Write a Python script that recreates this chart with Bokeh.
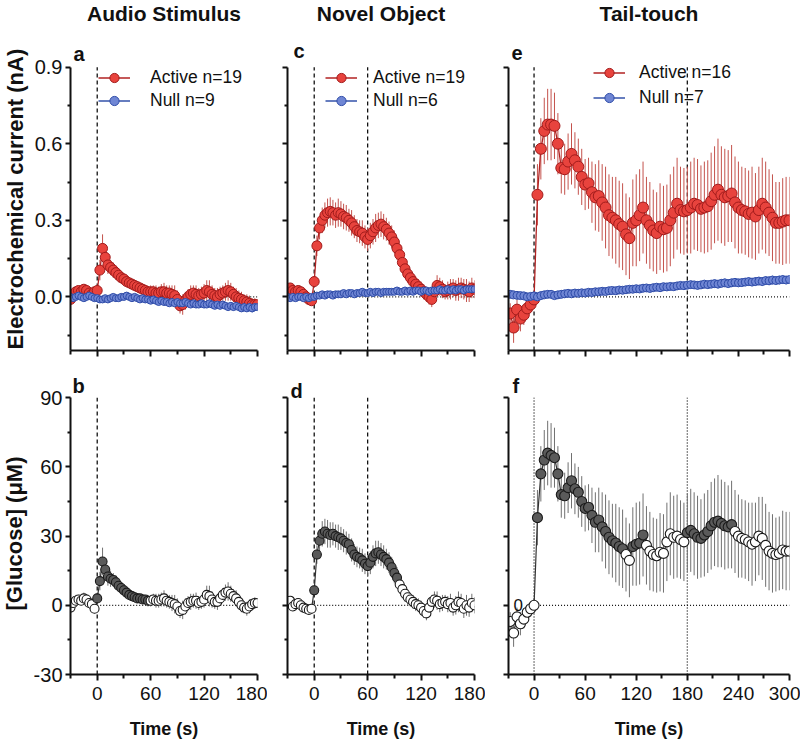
from bokeh.plotting import figure
from bokeh.models import Range1d, FixedTicker, Label, Legend, LegendItem, NumeralTickFormatter, Title
from bokeh.layouts import row, column
from bokeh.embed import file_html
from bokeh.resources import INLINE

FONT = "Liberation Sans"

# ---------------- data ----------------
time_ac = list(range(-30, 181, 3))   # panels a-d sample times (s)
time_e = list(range(-28, 301, 4))    # panels e-f sample times (s)

# Panel a : audio stimulus, electrochemical current (nA)
a_active = [
    -0.01, 0.01, 0.02, 0.025, 0.02, 0.03, 0.025, 0.015, 0.01, 0.02,
    0.025, 0.105, 0.19, 0.155, 0.125, 0.115, 0.105, 0.095, 0.085, 0.075,
    0.07, 0.06, 0.055, 0.05, 0.045, 0.04, 0.035, 0.03, 0.025, 0.02,
    0.02, 0.02, 0.015, 0.015, 0.02, 0.02, 0.015, 0.015, 0.01, 0.005,
    -0.01, -0.035, -0.03, -0.015, 0.0, 0.01, 0.015, 0.01, 0.005, 0.01,
    0.015, 0.025, 0.02, 0.01, 0.005, 0.0, 0.01, 0.015, 0.02, 0.025,
    0.02, 0.01, 0.0, -0.005, -0.01, -0.015, -0.02, -0.025, -0.03, -0.03,
    -0.03]
a_active_err = [
    0.012, 0.012, 0.014, 0.012, 0.012, 0.014, 0.012, 0.012, 0.01, 0.012,
    0.015, 0.04, 0.055, 0.045, 0.035, 0.03, 0.03, 0.028, 0.025, 0.025,
    0.022, 0.02, 0.02, 0.02, 0.018, 0.018, 0.02, 0.02, 0.022, 0.022,
    0.025, 0.025, 0.03, 0.025, 0.03, 0.035, 0.03, 0.03, 0.035, 0.04,
    0.035, 0.03, 0.04, 0.035, 0.03, 0.035, 0.03, 0.035, 0.03, 0.03,
    0.035, 0.04, 0.045, 0.035, 0.03, 0.035, 0.03, 0.03, 0.035, 0.04,
    0.035, 0.03, 0.035, 0.03, 0.03, 0.025, 0.03, 0.03, 0.025, 0.025,
    0.02]
a_null = [
    0.0, -0.005, 0.0, 0.005, 0.0, -0.005, 0.0, 0.005, 0.0, -0.005,
    -0.005, -0.01, -0.01, -0.005, -0.01, -0.005, 0.0, -0.005, -0.005, 0.0,
    0.0, 0.005, 0.0, -0.005, 0.0, -0.005, -0.01, -0.005, -0.01, -0.01,
    -0.015, -0.01, -0.015, -0.02, -0.015, -0.02, -0.02, -0.025, -0.02, -0.025,
    -0.02, -0.025, -0.025, -0.02, -0.025, -0.03, -0.025, -0.03, -0.03, -0.025,
    -0.03, -0.03, -0.025, -0.03, -0.035, -0.03, -0.035, -0.03, -0.035, -0.04,
    -0.035, -0.04, -0.035, -0.04, -0.045, -0.04, -0.045, -0.04, -0.045, -0.04,
    -0.04]
a_null_err = [
    0.006, 0.006, 0.007, 0.006, 0.006, 0.007, 0.006, 0.006, 0.007, 0.006,
    0.007, 0.008, 0.008, 0.007, 0.007, 0.008, 0.007, 0.007, 0.008, 0.007,
    0.008, 0.008, 0.007, 0.008, 0.008, 0.009, 0.008, 0.009, 0.008, 0.009,
    0.009, 0.01, 0.009, 0.01, 0.01, 0.009, 0.01, 0.011, 0.01, 0.011,
    0.01, 0.011, 0.012, 0.011, 0.012, 0.011, 0.012, 0.012, 0.011, 0.012,
    0.012, 0.013, 0.012, 0.013, 0.012, 0.013, 0.014, 0.013, 0.012, 0.013,
    0.014, 0.013, 0.014, 0.015, 0.014, 0.015, 0.014, 0.015, 0.016, 0.015,
    0.015]

# Panel c : novel object
c_active = [
    0.03, 0.035, 0.025, 0.02, 0.025, 0.02, 0.01, 0.0, -0.01, -0.015,
    0.06, 0.2, 0.27, 0.3, 0.32, 0.33, 0.335, 0.33, 0.32, 0.33,
    0.325, 0.315, 0.31, 0.3, 0.29, 0.275, 0.26, 0.255, 0.25, 0.235,
    0.225, 0.24, 0.255, 0.27, 0.28, 0.285, 0.275, 0.265, 0.25, 0.235,
    0.215, 0.19, 0.165, 0.135, 0.11, 0.09, 0.075, 0.06, 0.05, 0.04,
    0.03, 0.02, 0.01, 0.0, -0.01, 0.02, 0.045, 0.04, 0.03, 0.02,
    0.025, 0.03, 0.035, 0.025, 0.03, 0.035, 0.03, 0.025, 0.02, 0.035,
    0.03]
c_active_err = [
    0.015, 0.015, 0.018, 0.015, 0.015, 0.018, 0.02, 0.018, 0.015, 0.015,
    0.02, 0.04, 0.045, 0.05, 0.05, 0.055, 0.055, 0.05, 0.05, 0.055,
    0.05, 0.05, 0.05, 0.045, 0.05, 0.045, 0.045, 0.045, 0.05, 0.045,
    0.045, 0.05, 0.05, 0.055, 0.05, 0.05, 0.05, 0.045, 0.045, 0.045,
    0.045, 0.045, 0.04, 0.04, 0.035, 0.035, 0.03, 0.03, 0.03, 0.03,
    0.03, 0.03, 0.03, 0.03, 0.03, 0.035, 0.04, 0.035, 0.035, 0.03,
    0.035, 0.04, 0.035, 0.04, 0.045, 0.04, 0.04, 0.045, 0.04, 0.04,
    0.035]
c_null = [
    0.0, -0.005, 0.0, -0.005, 0.0, 0.0, -0.005, 0.0, -0.005, 0.0,
    0.0, 0.005, 0.005, 0.01, 0.005, 0.01, 0.01, 0.005, 0.01, 0.01,
    0.01, 0.015, 0.01, 0.015, 0.015, 0.01, 0.015, 0.015, 0.02, 0.015,
    0.015, 0.02, 0.015, 0.02, 0.02, 0.015, 0.02, 0.02, 0.02, 0.02,
    0.02, 0.025, 0.02, 0.02, 0.025, 0.02, 0.025, 0.02, 0.025, 0.025,
    0.02, 0.025, 0.025, 0.02, 0.025, 0.025, 0.025, 0.03, 0.025, 0.025,
    0.03, 0.025, 0.03, 0.025, 0.03, 0.03, 0.025, 0.03, 0.03, 0.03,
    0.03]
c_null_err = [
    0.006, 0.006, 0.006, 0.007, 0.006, 0.006, 0.007, 0.006, 0.006, 0.006,
    0.007, 0.007, 0.008, 0.007, 0.008, 0.008, 0.007, 0.008, 0.008, 0.008,
    0.008, 0.009, 0.008, 0.009, 0.009, 0.008, 0.009, 0.009, 0.01, 0.009,
    0.009, 0.01, 0.009, 0.01, 0.01, 0.009, 0.01, 0.01, 0.011, 0.01,
    0.01, 0.011, 0.01, 0.011, 0.011, 0.01, 0.011, 0.011, 0.012, 0.011,
    0.011, 0.012, 0.011, 0.012, 0.012, 0.011, 0.012, 0.012, 0.013, 0.012,
    0.012, 0.013, 0.012, 0.013, 0.013, 0.012, 0.013, 0.013, 0.014, 0.013,
    0.013]

# Panel e : tail-touch
e_active = [
    -0.065, -0.12, -0.05, -0.085, -0.07, -0.045, -0.03, -0.01, 0.40, 0.58,
    0.65, 0.675, 0.675, 0.67, 0.6, 0.505, 0.5, 0.53, 0.56, 0.535,
    0.51, 0.47, 0.44, 0.445, 0.41, 0.39, 0.395, 0.37, 0.35, 0.32,
    0.31, 0.30, 0.285, 0.275, 0.245, 0.23, 0.29, 0.30, 0.32, 0.35,
    0.30, 0.28, 0.26, 0.25, 0.275, 0.265, 0.27, 0.30, 0.33, 0.365,
    0.34, 0.335, 0.34, 0.35, 0.365, 0.36, 0.345, 0.35, 0.355, 0.375,
    0.40, 0.42, 0.40, 0.39, 0.395, 0.405, 0.37, 0.35, 0.34, 0.335,
    0.325, 0.33, 0.315, 0.34, 0.365, 0.35, 0.33, 0.31, 0.29, 0.29,
    0.295, 0.30, 0.30]
e_active_err = [
    0.04, 0.06, 0.04, 0.05, 0.04, 0.03, 0.03, 0.03, 0.12, 0.12,
    0.13, 0.14, 0.14, 0.13, 0.12, 0.1, 0.1, 0.11, 0.12, 0.11,
    0.11, 0.11, 0.1, 0.1, 0.12, 0.13, 0.14, 0.15, 0.16, 0.16,
    0.16, 0.17, 0.17, 0.17, 0.16, 0.16, 0.17, 0.18, 0.18, 0.18,
    0.17, 0.17, 0.16, 0.16, 0.17, 0.17, 0.17, 0.18, 0.18, 0.18,
    0.17, 0.17, 0.17, 0.18, 0.18, 0.18, 0.17, 0.18, 0.18, 0.19,
    0.19, 0.2, 0.19, 0.19, 0.18, 0.19, 0.18, 0.18, 0.17, 0.17,
    0.17, 0.18, 0.17, 0.17, 0.18, 0.18, 0.17, 0.17, 0.16, 0.16,
    0.17, 0.17, 0.17]
e_null = [
    0.01, 0.008, 0.006, 0.005, 0.004, 0.0, 0.002, 0.004, 0.0, 0.005,
    0.008, 0.01, 0.01, 0.005, 0.008, 0.01, 0.012, 0.014, 0.012, 0.015,
    0.014, 0.016, 0.015, 0.018, 0.017, 0.02, 0.02, 0.022, 0.021, 0.024,
    0.025, 0.024, 0.027, 0.026, 0.028, 0.03, 0.03, 0.032, 0.031, 0.034,
    0.035, 0.033, 0.036, 0.038, 0.036, 0.04, 0.039, 0.041, 0.04, 0.043,
    0.045, 0.044, 0.046, 0.048, 0.047, 0.045, 0.047, 0.05, 0.048, 0.05,
    0.052, 0.05, 0.053, 0.055, 0.052, 0.055, 0.057, 0.055, 0.056, 0.058,
    0.06, 0.058, 0.06, 0.062, 0.06, 0.064, 0.063, 0.066, 0.064, 0.066,
    0.068, 0.066, 0.068]
e_null_err = [
    0.008, 0.008, 0.009, 0.008, 0.008, 0.009, 0.008, 0.008, 0.009, 0.008,
    0.009, 0.009, 0.01, 0.009, 0.009, 0.01, 0.009, 0.01, 0.01, 0.01,
    0.01, 0.011, 0.01, 0.011, 0.01, 0.011, 0.011, 0.012, 0.011, 0.012,
    0.012, 0.011, 0.012, 0.012, 0.013, 0.012, 0.013, 0.012, 0.013, 0.013,
    0.013, 0.014, 0.013, 0.014, 0.013, 0.014, 0.014, 0.013, 0.014, 0.014,
    0.014, 0.015, 0.014, 0.015, 0.014, 0.015, 0.015, 0.014, 0.015, 0.015,
    0.015, 0.016, 0.015, 0.016, 0.015, 0.016, 0.016, 0.015, 0.016, 0.016,
    0.016, 0.016, 0.017, 0.016, 0.017, 0.016, 0.017, 0.017, 0.016, 0.017,
    0.017, 0.016, 0.017]

# Panels b, d, f : [Glucose] (uM)
b_glucose = [
    -1, 1, 2, 2.5, 2, 3, 2.5, 1, 0.5, -1.5,
    3, 10.5, 19, 15.5, 12.5, 11.5, 11, 10, 8.5, 7.5,
    6.5, 5.5, 4.5, 4, 3.5, 3, 3, 2.5, 2.5, 2,
    2, 2.5, 2, 2, 2.5, 3, 2, 1.5, 1, 0.5,
    -0.5, -2.5, -2, -0.5, 1, 1.5, 2, 2, 1, 1.5,
    2.5, 4.5, 4, 2.5, 1.5, 1.5, 3, 4.5, 5.5, 6,
    5, 4, 3, 1.5, 0, -1, -1.5, -0.5, 0.5, 1,
    1]
b_err = [
    2, 2, 2.5, 2, 2, 2.5, 2, 2, 2, 2,
    2.5, 4, 6, 5, 4, 3.5, 3, 3, 2.5, 2.5,
    2.5, 2, 2, 2, 2, 2, 2, 2, 2, 2.5,
    2.5, 2.5, 3, 3, 3, 3.5, 3, 3, 3.5, 4,
    3.5, 3, 4, 3.5, 3, 3.5, 3, 3.5, 3, 3,
    3.5, 4, 4.5, 3.5, 3, 3.5, 3, 3, 3.5, 4,
    3.5, 3, 3.5, 3, 3, 2.5, 3, 3, 2.5, 2.5,
    2]
d_glucose = [
    1.5, 2, -0.5, 0.5, 1, 0, -1, -1.5, -2, -1.5,
    6.5, 22, 28, 31, 32, 31, 30.5, 31, 30, 29.5,
    29, 28, 27, 26.5, 24, 22, 21, 20.5, 19.5, 18,
    17, 18.5, 21, 22.5, 23, 22, 21, 20, 18.5, 16.5,
    14, 12, 9, 7, 5, 3.5, 2.5, 1.5, 0.5, 0,
    -1, -2.5, -3.5, -1, 1.5, 2.5, 2, 0.5, 1, 1.5,
    0.5, 1, -1, 0, 1.5, 1, -1.5, 0, -1, 1,
    0]
d_err = [
    1.5, 1.5, 1.5, 1.5, 1.5, 1.5, 2, 1.5, 1.5, 1.5,
    2, 4, 5, 5.5, 5.5, 6, 5.5, 5, 5, 5.5,
    5, 5, 5, 4.5, 5, 4.5, 4.5, 4.5, 5, 4.5,
    4.5, 5, 5, 5.5, 5, 5, 5, 4.5, 4.5, 4.5,
    4.5, 4.5, 4, 4, 3.5, 3.5, 3, 3, 3, 3,
    3, 3, 3, 3, 3, 3.5, 4, 3.5, 3.5, 3,
    3.5, 4, 3.5, 4, 4.5, 4, 4, 4.5, 4, 4,
    3.5]
f_glucose = [
    -7, -12, -5, -8, -6, -3, -1.5, 0, 38, 57,
    63, 66, 65, 64, 57, 48, 47.5, 51, 54, 50.5,
    49, 45, 42, 42.5, 39, 36, 37, 34, 32, 29.5,
    28, 27, 25.5, 24.5, 22, 19.5, 25.5, 26.5, 27, 30.5,
    26, 23.5, 22, 21.5, 23, 22.5, 27.5, 31, 29.5, 30,
    28.5, 27.5, 31.5, 32.5, 31, 29.5, 29, 30.5, 32, 34.5,
    36, 36.5, 35.5, 34.5, 34, 35, 32, 30, 29, 28.5,
    27.5, 26.5, 27.5, 30, 29, 26, 23.5, 22.5, 22, 22.5,
    24, 23.5, 23.5]
f_err = [
    4, 6, 4, 5, 4, 3, 3, 3, 12, 12,
    13, 14, 14, 13, 12, 10, 10, 11, 12, 11,
    11, 11, 10, 10, 12, 13, 14, 15, 16, 16,
    16, 17, 17, 17, 16, 16, 17, 18, 18, 18,
    17, 17, 16, 16, 17, 17, 17, 18, 18, 18,
    17, 17, 17, 18, 18, 18, 17, 18, 18, 19,
    19, 20, 19, 19, 18, 19, 18, 18, 17, 17,
    17, 18, 17, 17, 18, 18, 17, 17, 16, 16,
    17, 17, 17]

# significant (filled-marker) time windows
sig_b = [(0, 57)]
sig_d = [(0, 93)]
sig_f = [(4, 104), (116, 128), (180, 232)]

titles = ["Audio Stimulus", "Novel Object", "Tail-touch"]
letters = ["a", "b", "c", "d", "e", "f"]
legend_a = ["Active n=19", "Null n=9"]
legend_c = ["Active n=19", "Null n=6"]
legend_e = ["Active n=16", "Null n=7"]
ylabel_top = "Electrochemical current (nA)"
ylabel_bot = "[Glucose] (μM)"
xlabel = "Time (s)"

X_AC = (-30, 180)
X_E = (-30, 300)
Y_TOP = (-0.21, 0.9)      # axis extent, top row
Y_BOT = (-30, 90)         # axis extent, bottom row
XT_AC, XM_AC = [0, 60, 120, 180], [-30, 30, 90, 150]
XT_E, XM_E = [0, 60, 120, 180, 240, 300], [-30, 30, 90, 150, 210, 270]
YT_TOP, YM_TOP = [0.0, 0.3, 0.6, 0.9], [-0.15, 0.15, 0.45, 0.75]
YT_BOT, YM_BOT = [-30, 0, 30, 60, 90], [-15, 15, 45, 75]
STIM_ON = 0
STIM_OFF_C = 60
STIM_OFF_E = 180

# layout: the plot frame reaches up to hold titles, panel letters and legends
Y_TOP_VIEW = 1.161
Y_BOT_VIEW = 101.8

# ---------------- styling ----------------
RED_FILL, RED_EDGE, RED_ERR, RED_LINE = "#e8433d", "#a11b1b", "#c4524c", "#b22222"
BLUE_FILL, BLUE_EDGE, BLUE_ERR, BLUE_LINE = "#6f86d4", "#2f4ca8", "#3d5cb8", "#3352aa"
GREY_FILL, GREY_EDGE, GREY_ERR = "#5a5a5a", "#1a1a1a", "#707070"
INK = "#111111"


def base_fig(w, h, xr, yr, yview, bl, br, bb, xt, xm, yt, ym, xlab, ylab):
    p = figure(width=w, height=h, x_range=Range1d(*xr), y_range=Range1d(yr[0], yview),
               output_backend="svg", toolbar_location=None, title=None,
               min_border_left=bl, min_border_right=br,
               min_border_top=0, min_border_bottom=bb)
    p.outline_line_color = None
    p.xgrid.visible = False
    p.ygrid.visible = False
    p.background_fill_color = "white"
    p.border_fill_color = "white"
    p.xaxis.ticker = FixedTicker(ticks=xt, minor_ticks=xm)
    p.yaxis.ticker = FixedTicker(ticks=yt, minor_ticks=ym)
    p.yaxis.bounds = yr
    for ax in p.xaxis + p.yaxis:
        ax.axis_line_width = 2
        ax.axis_line_color = INK
        ax.major_tick_line_width = 2
        ax.minor_tick_line_width = 2
        ax.major_tick_line_color = INK
        ax.minor_tick_line_color = INK
        ax.major_tick_in = 0
        ax.minor_tick_in = 0
        ax.major_tick_out = 6
        ax.minor_tick_out = 4
        ax.major_label_text_font = FONT
        ax.major_label_text_color = INK
        ax.axis_label_text_font = FONT
        ax.axis_label_text_font_style = "bold"
        ax.axis_label_text_color = INK
    p.xaxis.major_label_text_font_size = "19px"
    p.yaxis.major_label_text_font_size = "20px"
    p.xaxis.major_label_standoff = 6
    p.yaxis.major_label_standoff = 3
    p.yaxis.major_tick_out = 5
    p.yaxis.minor_tick_out = 3
    if not xlab:
        p.xaxis.major_label_text_font_size = "0px"
        p.xaxis.major_label_overrides = {t: "" for t in xt}
    if not ylab:
        p.yaxis.major_label_text_font_size = "0px"
        p.yaxis.major_label_overrides = {t: "" for t in yt}
    return p


def side_label(p, txt, offset, standoff):
    p.add_layout(Title(text=txt, align="left", vertical_align="top", offset=offset,
                       standoff=standoff, text_font=FONT, text_font_size="22px",
                       text_font_style="bold", text_color=INK), "left")


def add_letter(p, txt, x, y, dx, dy):
    p.add_layout(Label(x=x, y=y, x_offset=dx, y_offset=dy, text=txt,
                       text_font=FONT, text_font_style="bold", text_font_size="20px",
                       text_color=INK, text_baseline="alphabetic", text_align="left"))


def add_title(p, txt, xr, ytop):
    p.add_layout(Label(x=(xr[0] + xr[1]) / 2, y=ytop, y_offset=54, text=txt,
                       text_font=FONT, text_font_style="bold", text_font_size="21px",
                       text_color=INK, text_baseline="middle", text_align="center"))


def vline(p, loc, yr, dash):
    p.segment(x0=[loc], y0=[yr[0]], x1=[loc], y1=[yr[1]], line_color=INK,
              line_width=1.3, line_dash=dash)


def zero_line(p, x_end):
    p.segment(x0=[STIM_ON], y0=[0], x1=[x_end], y1=[0], line_color=INK,
              line_width=1.2, line_dash="1 2")


def current_panel(p, t, act, act_err, nul, nul_err, sa, sn, labels, loc, spacing, standoff):
    p.segment(x0=t, x1=t, y0=[v - e for v, e in zip(act, act_err)],
              y1=[v + e for v, e in zip(act, act_err)], line_color=RED_ERR, line_width=1)
    la = p.line(t, act, line_color=RED_LINE, line_width=1.3)
    sa_r = p.scatter(t, act, size=sa, fill_color=RED_FILL, line_color=RED_EDGE, line_width=1)
    p.segment(x0=t, x1=t, y0=[v - e for v, e in zip(nul, nul_err)],
              y1=[v + e for v, e in zip(nul, nul_err)], line_color=BLUE_ERR, line_width=1)
    ln = p.line(t, nul, line_color=BLUE_LINE, line_width=1.3)
    sn_r = p.scatter(t, nul, size=sn, fill_color=BLUE_FILL, line_color=BLUE_EDGE, line_width=1)
    leg = Legend(items=[LegendItem(label=labels[0], renderers=[la, sa_r]),
                        LegendItem(label=labels[1], renderers=[ln, sn_r])],
                 location=loc, orientation="vertical", glyph_width=32, glyph_height=23,
                 label_height=23, spacing=spacing, padding=0, margin=0, label_standoff=standoff,
                 border_line_color=None, background_fill_alpha=0,
                 label_text_font=FONT, label_text_font_size="17.5px", label_text_color=INK)
    p.add_layout(leg)


def glucose_panel(p, t, g, err, sig, size):
    fills = [GREY_FILL if any(a <= ti <= b for a, b in sig) else "white" for ti in t]
    p.segment(x0=t, x1=t, y0=[v - e for v, e in zip(g, err)],
              y1=[v + e for v, e in zip(g, err)], line_color=GREY_ERR, line_width=1)
    p.line(t, g, line_color="#333333", line_width=1.2)
    p.scatter(t, g, size=size, fill_color=fills, line_color=GREY_EDGE, line_width=1.1)


def time_label(p):
    p.xaxis.axis_label = xlabel
    p.xaxis.axis_label_text_font_size = "18px"
    p.xaxis.axis_label_standoff = 16


TOP_H, BOT_H = 370, 371
W1, W2, W3 = 267, 218, 315

# ---- top row ----
pa = base_fig(W1, TOP_H, X_AC, Y_TOP, Y_TOP_VIEW, 70, 10, 20, XT_AC, XM_AC, YT_TOP, YM_TOP, False, True)
pa.yaxis.formatter = NumeralTickFormatter(format="0.0")
side_label(pa, ylabel_top, 1, 4)
zero_line(pa, X_AC[1])
vline(pa, STIM_ON, Y_TOP, "4 3")
current_panel(pa, time_ac, a_active, a_active_err, a_null, a_null_err, 10, 7, legend_a, (28, 238), 0, 20)
add_title(pa, titles[0], X_AC, Y_TOP[1])
add_letter(pa, letters[0], X_AC[0], Y_TOP[1], 3, 13)

pc = base_fig(W2, TOP_H, X_AC, Y_TOP, Y_TOP_VIEW, 20, 11, 20, XT_AC, XM_AC, YT_TOP, YM_TOP, False, False)
zero_line(pc, X_AC[1])
vline(pc, STIM_ON, Y_TOP, "4 3")
vline(pc, STIM_OFF_C, Y_TOP, "4 3")
current_panel(pc, time_ac, c_active, c_active_err, c_null, c_null_err, 10, 7, legend_c, (38, 238), 0, 16)
add_title(pc, titles[1], X_AC, Y_TOP[1])
add_letter(pc, letters[2], X_AC[0], Y_TOP[1], 6, 16)

pe = base_fig(W3, TOP_H, X_E, Y_TOP, Y_TOP_VIEW, 23, 11, 20, XT_E, XM_E, YT_TOP, YM_TOP, False, False)
zero_line(pe, X_E[1])
vline(pe, STIM_ON, Y_TOP, "4 3")
vline(pe, STIM_OFF_E, Y_TOP, "4 3")
current_panel(pe, time_e, e_active, e_active_err, e_null, e_null_err, 11, 8, legend_e, (85, 241), 2, 14)
add_title(pe, titles[2], X_E, Y_TOP[1])
add_letter(pe, letters[4], X_E[0], Y_TOP[1], 3, 14)

# ---- bottom row ----
pb = base_fig(W1, BOT_H, X_AC, Y_BOT, Y_BOT_VIEW, 70, 10, 67, XT_AC, XM_AC, YT_BOT, YM_BOT, True, True)
pb.yaxis.major_label_overrides = {-30: "-30"}
side_label(pb, ylabel_bot, 64, 3)
time_label(pb)
zero_line(pb, X_AC[1])
vline(pb, STIM_ON, Y_BOT, "4 3")
glucose_panel(pb, time_ac, b_glucose, b_err, sig_b, 9)
add_letter(pb, letters[1], X_AC[0], Y_BOT[1], 2, 12)

pd_ = base_fig(W2, BOT_H, X_AC, Y_BOT, Y_BOT_VIEW, 20, 11, 67, XT_AC, XM_AC, YT_BOT, YM_BOT, True, False)
time_label(pd_)
zero_line(pd_, X_AC[1])
vline(pd_, STIM_ON, Y_BOT, "4 3")
vline(pd_, STIM_OFF_C, Y_BOT, "4 3")
glucose_panel(pd_, time_ac, d_glucose, d_err, sig_d, 9)
add_letter(pd_, letters[3], X_AC[0], Y_BOT[1], 3, 7)

pf = base_fig(W3, BOT_H, X_E, Y_BOT, Y_BOT_VIEW, 23, 11, 67, XT_E, XM_E, YT_BOT, YM_BOT, True, False)
time_label(pf)
zero_line(pf, X_E[1])
vline(pf, STIM_ON, Y_BOT, "1 2")
vline(pf, STIM_OFF_E, Y_BOT, "1 2")
glucose_panel(pf, time_e, f_glucose, f_err, sig_f, 10)
pf.add_layout(Label(x=X_E[0], y=0, x_offset=5, text="0", text_font=FONT,
                    text_font_size="17px", text_color=INK, text_baseline="middle"))
add_letter(pf, letters[5], X_E[0], Y_BOT[1], 4, 12)

layout = column(row(pa, pc, pe), row(pb, pd_, pf))
open("out.html", "w").write(file_html(layout, INLINE))
